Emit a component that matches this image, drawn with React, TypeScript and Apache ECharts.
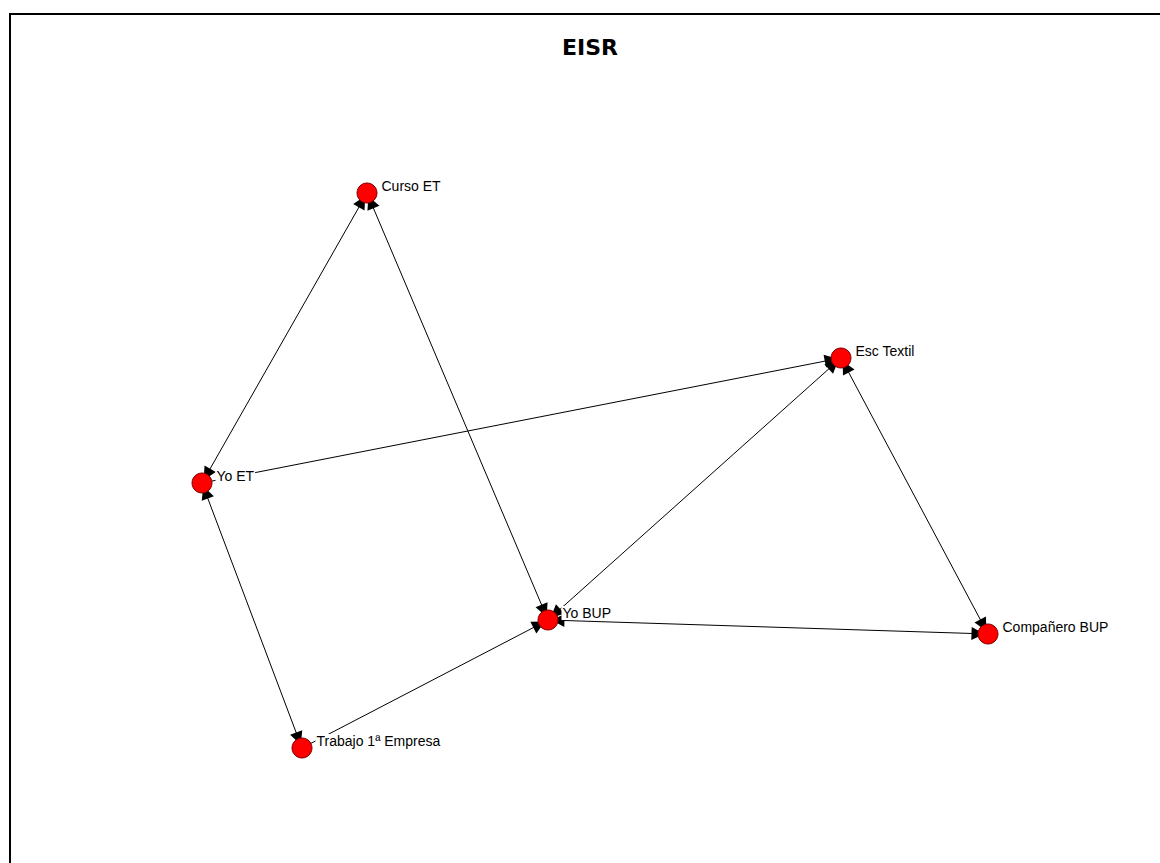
import React, { useEffect, useRef } from "react";
import * as echarts from "echarts";

const nodeNames = ["Curso ET", "Esc Textil", "Yo ET", "Yo BUP", "Compañero BUP", "Trabajo 1ª Empresa"];
const nodeX = [367, 841, 202, 548, 988, 302];
const nodeY = [193, 358, 483, 620, 634, 748];
const linkSource = ["Curso ET", "Curso ET", "Yo ET", "Yo BUP", "Esc Textil", "Yo BUP", "Yo ET", "Trabajo 1ª Empresa"];
const linkTarget = ["Yo ET", "Yo BUP", "Esc Textil", "Esc Textil", "Compañero BUP", "Compañero BUP", "Trabajo 1ª Empresa", "Yo BUP"];
const linkBoth = [true, true, false, true, true, true, true, false];
const titleText = "EISR";

export default function App() {
  const ref = useRef<HTMLDivElement>(null);
  useEffect(() => {
    if (!ref.current) return;
    const chart = echarts.init(ref.current, undefined, { renderer: "svg" });
    const nodes = nodeNames.map((n, i) => ({ name: n, value: [nodeX[i], nodeY[i]] }));
    const links = linkSource.map((s, i) => ({
      source: s,
      target: linkTarget[i],
      symbol: linkBoth[i] ? ["triangle", "triangle"] : ["none", "triangle"],
    }));
    chart.setOption({
      animation: false,
      backgroundColor: "#ffffff",
      grid: { left: 0, right: 0, top: 0, bottom: 0 },
      xAxis: { type: "value", min: 0, max: 1160, show: false },
      yAxis: { type: "value", min: 0, max: 863, inverse: true, show: false },
      graphic: [
        {
          type: "rect",
          shape: { x: 10, y: 14, width: 1170, height: 870 },
          style: { fill: "none", stroke: "#000", lineWidth: 2 },
          silent: true,
        },
        {
          type: "text",
          x: 590,
          y: 47,
          style: {
            text: titleText,
            align: "center",
            verticalAlign: "middle",
            fontFamily: "DejaVu Sans",
            fontWeight: "bold",
            fontSize: 22,
            fill: "#000",
          },
        },
      ],
      series: [
        {
          type: "graph",
          coordinateSystem: "cartesian2d",
          layout: "none",
          symbol: "circle",
          symbolSize: 20,
          itemStyle: { color: "#ff0000", borderColor: "#7a0000", borderWidth: 1 },
          label: {
            show: true,
            position: "right",
            distance: 3,
            offset: [0, -7],
            color: "#000",
            fontFamily: "Liberation Sans",
            fontSize: 14,
            backgroundColor: "#ffffff",
            padding: [0, 1],
          },
          edgeSymbolSize: 13,
          lineStyle: { color: "#000", width: 1, opacity: 1, curveness: 0 },
          data: nodes,
          links: links,
          emphasis: { disabled: true },
        },
      ],
    });
    return () => chart.dispose();
  }, []);
  return (
    <div
      ref={ref}
      style={{ position: "absolute", left: 0, top: 0, width: 1160, height: 863 }}
    />
  );
}
